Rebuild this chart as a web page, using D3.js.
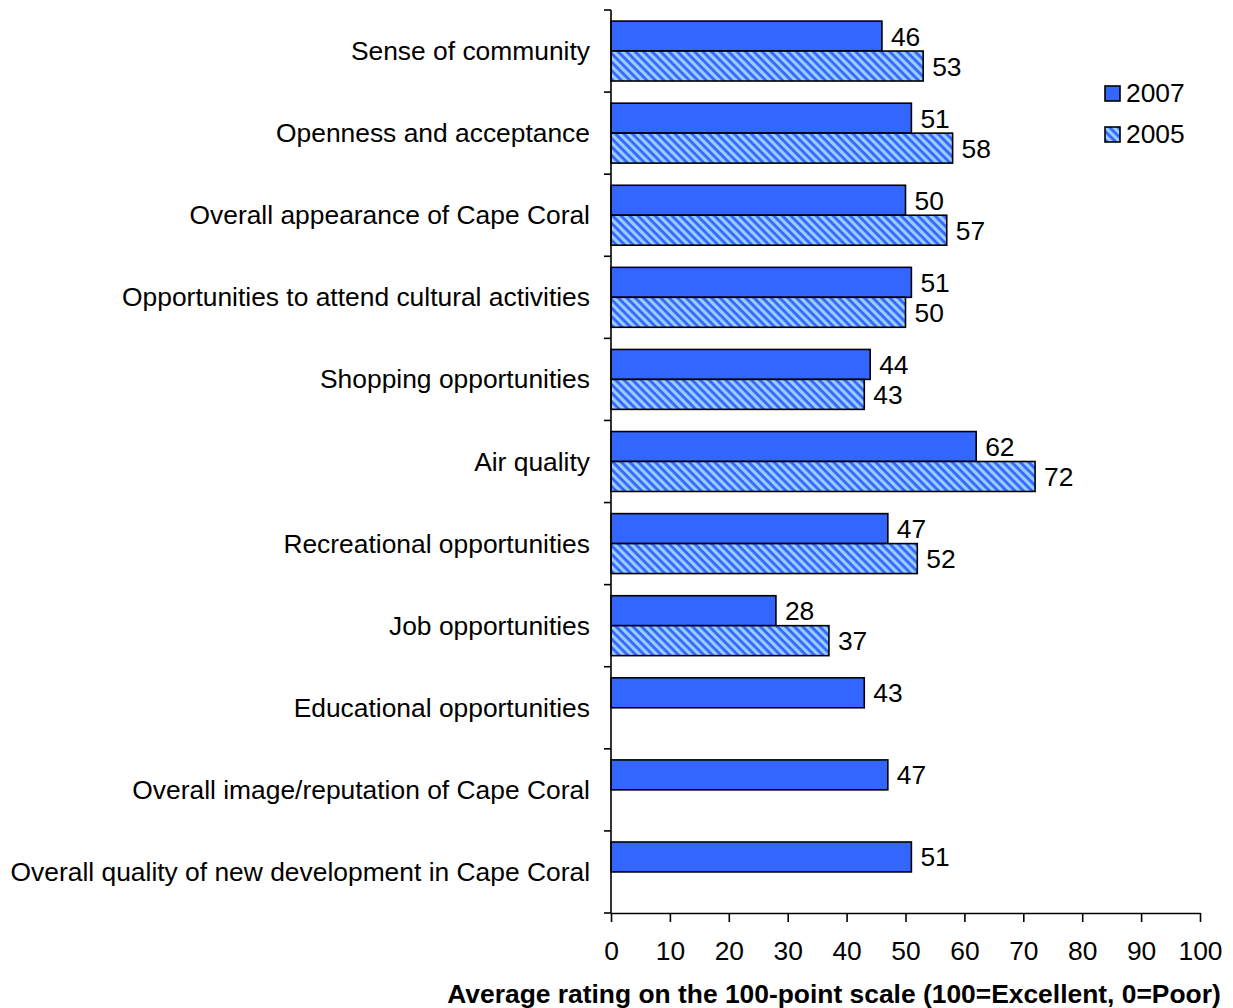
<!DOCTYPE html>
<html><head><meta charset="utf-8">
<script src="https://cdn.jsdelivr.net/npm/d3@7"></script>
<style>body{margin:0;background:#fff}svg{display:block}text{font-family:"Liberation Sans",Arial,sans-serif}</style>
</head><body>
<svg id="c" width="1233" height="1008"></svg>
<script>
const categories = ["Sense of community","Openness and acceptance","Overall appearance of Cape Coral","Opportunities to attend cultural activities","Shopping opportunities","Air quality","Recreational opportunities","Job opportunities","Educational opportunities","Overall image/reputation of Cape Coral","Overall quality of new development in Cape Coral"];
const values2007 = [46,51,50,51,44,62,47,28,43,47,51];
const values2005 = [53,58,57,50,43,72,52,37,null,null,null];
const seriesNames = ["2007","2005"];
const xTicks = [0,10,20,30,40,50,60,70,80,90,100];
const axisTitle = "Average rating on the 100-point scale (100=Excellent, 0=Poor)";

const FS = 26.4;
const svg = d3.select("#c");
const defs = svg.append("defs");
const P = 6;
const pat = defs.append("pattern").attr("id","hatch").attr("patternUnits","userSpaceOnUse")
  .attr("width",P).attr("height",P).attr("patternTransform","rotate(45)");
pat.append("rect").attr("width",P).attr("height",P).attr("fill","#99ccff");
pat.append("rect").attr("x",0).attr("y",0).attr("width",P).attr("height",2.8).attr("fill","#3366ff");

const x = d3.scaleLinear().domain([0,100]).range([611,1200]);
const y = d3.scaleBand().domain(categories).range([10,913]);
const inner = d3.scaleBand().domain(seriesNames).range([0,y.bandwidth()]).paddingInner(0).paddingOuter(0.37);

const data = [];
categories.forEach((c,i)=>{
  data.push({c, s:"2007", v:values2007[i]});
  if(values2005[i]!=null) data.push({c, s:"2005", v:values2005[i]});
});

svg.selectAll("rect.bar").data(data).join("rect").attr("class","bar")
  .attr("x",x(0)).attr("y",d=>y(d.c)+inner(d.s))
  .attr("width",d=>x(d.v)-x(0)).attr("height",inner.bandwidth())
  .attr("fill",d=>d.s==="2007"?"#3366ff":"url(#hatch)")
  .attr("stroke","#000").attr("stroke-width",1.6);

svg.selectAll("text.val").data(data).join("text").attr("class","val")
  .attr("x",d=>x(d.v)+9).attr("y",d=>y(d.c)+inner(d.s)+inner.bandwidth()/2+9.5)
  .attr("font-size",FS).text(d=>d.v);

// y axis
const yAxisG = svg.append("g");
yAxisG.append("line").attr("x1",x(0)).attr("x2",x(0)).attr("y1",10).attr("y2",913).attr("stroke","#000").attr("stroke-width",1.6);
const yTickPos = d3.range(categories.length+1).map(i=>10+i*y.step());
yAxisG.selectAll("line.t").data(yTickPos).join("line").attr("class","t")
  .attr("x1",x(0)-7).attr("x2",x(0)).attr("y1",d=>d).attr("y2",d=>d).attr("stroke","#000").attr("stroke-width",1.6);
svg.selectAll("text.cat").data(categories).join("text").attr("class","cat")
  .attr("x",590).attr("y",d=>y(d)+y.bandwidth()/2+9).attr("text-anchor","end")
  .attr("font-size",FS).text(d=>d);

// x axis
const xAxis = d3.axisBottom(x).tickValues(xTicks).tickSize(9).tickPadding(19).tickSizeOuter(0);
const xg = svg.append("g").attr("transform","translate(0,913)").call(xAxis);
xg.select(".domain").attr("stroke","#000").attr("stroke-width",1.6);
xg.selectAll(".tick line").attr("stroke","#000").attr("stroke-width",1.6);
xg.selectAll(".tick text").attr("font-size",FS).attr("fill","#000").attr("font-family","Liberation Sans, Arial, sans-serif");

svg.append("text").attr("x",834).attr("y",1003).attr("text-anchor","middle")
  .attr("font-size",FS).attr("font-weight","bold").text(axisTitle);

// legend
const leg = svg.append("g");
seriesNames.forEach((s,i)=>{
  const yy = 86 + i*41;
  leg.append("rect").attr("x",1105).attr("y",yy).attr("width",15).attr("height",15)
    .attr("fill",s==="2007"?"#3366ff":"url(#hatch)").attr("stroke","#000").attr("stroke-width",1.6);
  leg.append("text").attr("x",1126).attr("y",yy+16).attr("font-size",FS).text(s);
});
</script>
</body></html>
